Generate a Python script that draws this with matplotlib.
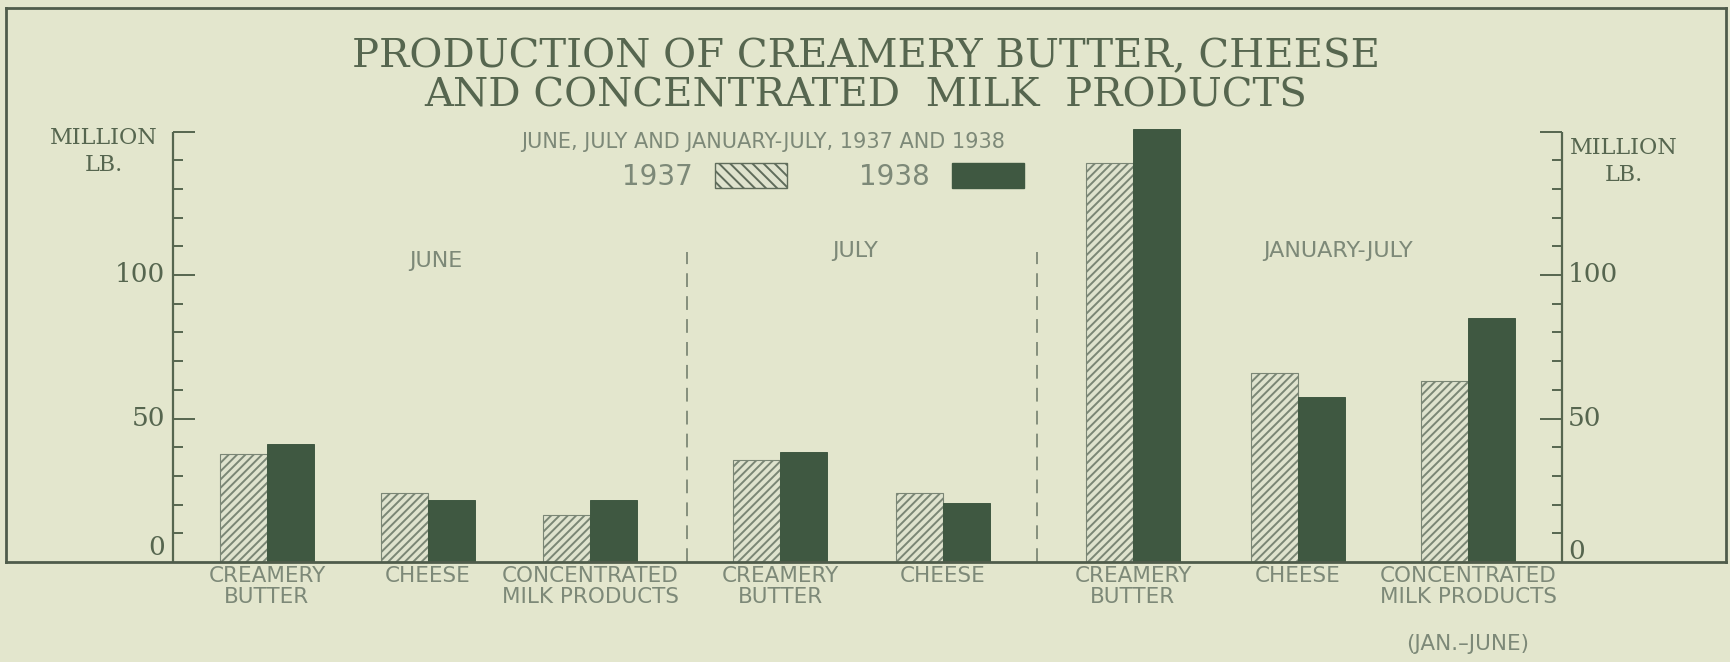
import numpy as np
import matplotlib.pyplot as plt
from matplotlib.patches import Patch

# data (million lb.)
groups = ["JUNE", "JULY", "JANUARY-JULY"]
categories = ["CREAMERY\nBUTTER", "CHEESE", "CONCENTRATED\nMILK PRODUCTS",
              "CREAMERY\nBUTTER", "CHEESE",
              "CREAMERY\nBUTTER", "CHEESE", "CONCENTRATED\nMILK PRODUCTS"]
prod_1937 = [37.5, 24, 16.5, 35.5, 24, 139, 66, 63]
prod_1938 = [41, 21.5, 21.5, 38.5, 20.5, 151, 57.5, 85]
ticks = list(range(0, 151, 10))
tick_labels = {0: "0", 50: "50", 100: "100"}

# layout (x in pixel units of the 1730 px wide picture)
pair_x = np.array([267, 428, 590, 780, 943, 1133, 1298, 1468])
bar_w = 47
group_x = [436, 855, 1338]
group_y = [105, 108.5, 108.5]
divider_x = [687, 1037]

bg = "#e3e6cd"
ink = "#56664f"
light_ink = "#7d8978"
dark_bar = "#3f5841"
hatch_fill = "#dfe3ce"

plt.rcParams["hatch.linewidth"] = 1.4

fig = plt.figure(figsize=(17.3, 6.62), dpi=100, facecolor=bg)
# frame runs from x=6..1726 px, y=8..562 px
ax = fig.add_axes([6 / 1730, 1 - 562 / 662, 1720 / 1730, 554 / 662])
ax.set_facecolor(bg)
ax.set_xlim(6, 1726)
ax.set_ylim(0, 554 / 2.87)
ax.set_xticks([])
ax.set_yticks([])
for s in ax.spines.values():
    s.set_color("#4f5c4b")
    s.set_linewidth(2)

# bars
ax.bar(pair_x - bar_w / 2, prod_1937, width=bar_w, color=hatch_fill,
       edgecolor="#7a8675", linewidth=0.8, hatch="////")
ax.bar(pair_x + bar_w / 2, prod_1938, width=bar_w, color=dark_bar,
       edgecolor=dark_bar, linewidth=0.7)

# dashed dividers between periods
ax.vlines(divider_x, 0, 108, colors="#6b7866", linewidth=1.1,
          linestyles=(0, (9, 6)))

# left scale
ax.vlines(173, 0, 150, colors=ink, linewidth=1.6)
for t in ticks[1:]:
    ln = 22 if t % 50 == 0 else 10
    ax.hlines(t, 173, 173 + ln, colors=ink, linewidth=1.4)
# right scale
ax.vlines(1562, 0, 150, colors=ink, linewidth=1.6)
for t in ticks[1:]:
    ln = 22 if t % 50 == 0 else 10
    ax.hlines(t, 1562 - ln, 1562, colors=ink, linewidth=1.4)

for t, lab in tick_labels.items():
    yy = t if t else 5
    ax.text(165, yy, lab, ha="right", va="center", fontsize=19,
            family="DejaVu Serif", color=ink)
    ax.text(1568, yy if t else 3.5, lab, ha="left", va="center", fontsize=19,
            family="DejaVu Serif", color=ink)

ax.text(104, 143, "MILLION\nLB.", ha="center", va="center", fontsize=16,
        family="DejaVu Serif", color=ink, linespacing=1.3)
ax.text(1624, 139.5, "MILLION\nLB.", ha="center", va="center", fontsize=16,
        family="DejaVu Serif", color=ink, linespacing=1.3)

# titles
fig.text(866 / 1730, 1 - 57 / 662, "PRODUCTION OF CREAMERY BUTTER, CHEESE",
         ha="center", va="center", fontsize=29, family="DejaVu Serif", color=ink)
fig.text(866 / 1730, 1 - 96 / 662, "AND CONCENTRATED  MILK  PRODUCTS",
         ha="center", va="center", fontsize=29, family="DejaVu Serif", color=ink)
ax.text(763, 146.5, "JUNE, JULY AND JANUARY-JULY, 1937 AND 1938",
        ha="center", va="center", fontsize=15, color=light_ink)

# legend
handles = [Patch(facecolor=hatch_fill, edgecolor="#5f6c5b", hatch="\\\\\\", label="1937"),
           Patch(facecolor=dark_bar, edgecolor=dark_bar, label="1938")]
ax.legend(handles=handles, loc="center", bbox_to_anchor=(823 / 1730, 1 - 177 / 662),
          bbox_transform=fig.transFigure, ncol=2, frameon=False, markerfirst=False,
          fontsize=20, handlelength=2.6, handleheight=1.0, handletextpad=0.8,
          columnspacing=2.6, labelcolor=light_ink)

# period labels
for gx, gy, g in zip(group_x, group_y, groups):
    ax.text(gx, gy, g, ha="center", va="center", fontsize=16, color=light_ink)

# category labels under the frame
for x, c in zip(pair_x, categories):
    ax.text(x, -1.5, c, ha="center", va="top", fontsize=15.5, color=light_ink,
            linespacing=1.05, clip_on=False)
ax.text(pair_x[-1], -28.5, "(JAN.\u2013JUNE)", ha="center", va="center",
        fontsize=15.5, color=light_ink, clip_on=False)

fig.savefig("out.png", dpi=100, facecolor=bg)
